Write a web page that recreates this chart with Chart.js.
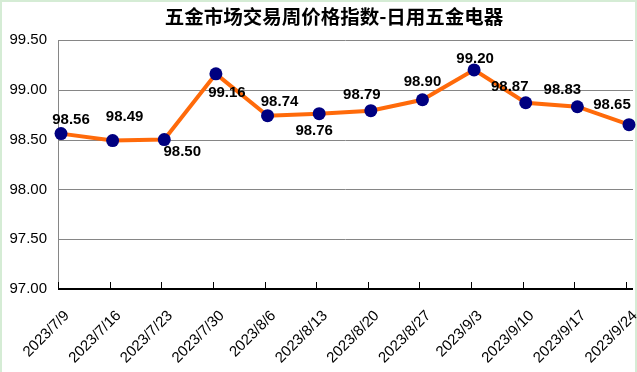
<!DOCTYPE html>
<html>
<head>
<meta charset="utf-8">
<script src="https://cdn.jsdelivr.net/npm/chart.js@4.4.0/dist/chart.umd.min.js"></script>
<style>
  html, body { margin: 0; padding: 0; background: #d5ecd5; }
  #wrap { position: absolute; left: 0; top: 0; width: 637px; height: 372px; }
</style>
</head>
<body>
<div id="wrap"><canvas id="c" width="637" height="372"></canvas></div>
<script>
const chartTitle = '五金市场交易周价格指数-日用五金电器';
const categories = ['2023/7/9', '2023/7/16', '2023/7/23', '2023/7/30', '2023/8/6', '2023/8/13',
                    '2023/8/20', '2023/8/27', '2023/9/3', '2023/9/10', '2023/9/17', '2023/9/24'];
const indexValues = [98.56, 98.49, 98.50, 99.16, 98.74, 98.76, 98.79, 98.90, 99.20, 98.87, 98.83, 98.65];
const yTicks = [97.00, 97.50, 98.00, 98.50, 99.00, 99.50];

// label placement (dx, dy from point centre) - style only
const labelOffsets = [[10,-14],[12,-24],[18,12],[11,19],[12,-14],[-5,17],[-9,-16],[0,-18],[1,-11],[-16,-16],[-15,-17],[-17,-20]];

const bgPlugin = {
  id: 'bg',
  beforeDraw(chart) {
    const ctx = chart.ctx;
    ctx.save();
    ctx.fillStyle = '#d5ecd5';
    ctx.fillRect(0, 0, chart.width, chart.height);
    ctx.fillStyle = '#ffffff';
    ctx.fillRect(2, 2, 633, 370);
    ctx.restore();
  }
};

// plot frame: gridlines and axes extend slightly beyond the first/last category
const framePlugin = {
  id: 'frame',
  beforeDatasetsDraw(chart) {
    const ys = chart.scales.y, xs = chart.scales.x, ctx = chart.ctx;
    const area = chart.chartArea;
    const left = area.left - 3, right = area.right + 4;
    ctx.save();
    ctx.strokeStyle = '#868686';
    ctx.lineWidth = 1;
    yTicks.forEach(v => {
      const y = Math.round(ys.getPixelForValue(v)) + 0.5;
      if (v === yTicks[0]) return;
      ctx.beginPath();
      ctx.moveTo(left, y);
      ctx.lineTo(right, y);
      ctx.stroke();
    });
    const top = Math.round(ys.getPixelForValue(yTicks[yTicks.length - 1]));
    const bottom = Math.round(ys.getPixelForValue(yTicks[0]));
    ctx.beginPath();
    ctx.moveTo(left + 0.5, top);
    ctx.lineTo(left + 0.5, bottom);
    ctx.stroke();
    // x axis line
    ctx.strokeStyle = '#000000';
    ctx.lineWidth = 2;
    ctx.beginPath();
    ctx.moveTo(left, bottom);
    ctx.lineTo(right, bottom);
    ctx.stroke();
    // inner tick marks
    ctx.lineWidth = 1;
    for (let i = 0; i < xs.ticks.length; i++) {
      const x = Math.round(xs.getPixelForTick(i) - 3) + 0.5;
      ctx.beginPath();
      ctx.moveTo(x, bottom);
      ctx.lineTo(x, bottom - 7);
      ctx.stroke();
    }
    ctx.restore();
  }
};

const titlePlugin = {
  id: 'customTitle',
  afterDraw(chart) {
    const ctx = chart.ctx;
    ctx.save();
    ctx.font = 'bold 19.5px "Noto Sans CJK SC", sans-serif';
    ctx.fillStyle = '#000000';
    ctx.textAlign = 'center';
    ctx.textBaseline = 'middle';
    ctx.fillText(chartTitle, 334, 17);
    ctx.restore();
  }
};

const valueLabels = {
  id: 'valueLabels',
  afterDatasetsDraw(chart) {
    const meta = chart.getDatasetMeta(0), ctx = chart.ctx;
    ctx.save();
    ctx.font = 'bold 15px "Liberation Sans", Arial, sans-serif';
    ctx.fillStyle = '#000000';
    ctx.textAlign = 'center';
    ctx.textBaseline = 'middle';
    meta.data.forEach((pt, i) => {
      const off = labelOffsets[i];
      ctx.fillText(indexValues[i].toFixed(2), pt.x + off[0], pt.y + off[1]);
    });
    ctx.restore();
  }
};

new Chart(document.getElementById('c'), {
  type: 'line',
  data: {
    labels: categories,
    datasets: [{
      data: indexValues,
      borderColor: '#ff6a0a',
      borderWidth: 4,
      pointBackgroundColor: '#000080',
      pointBorderColor: '#000080',
      pointRadius: 6.5,
      pointBorderWidth: 0,
      tension: 0,
      clip: false
    }]
  },
  options: {
    responsive: false,
    devicePixelRatio: 1,
    animation: false,
    layout: { padding: { left: 2, right: 8, top: 40, bottom: 2 } },
    plugins: {
      legend: { display: false },
      tooltip: { enabled: false },
      title: { display: false }
    },
    scales: {
      x: {
        offset: false,
        grid: { display: false, drawTicks: false },
        border: { display: false },
        ticks: {
          color: '#000000',
          font: { family: '"Liberation Sans", Arial, sans-serif', size: 15 },
          minRotation: 45,
          maxRotation: 45,
          autoSkip: false,
          padding: 18,
          labelOffset: 6
        },
        afterFit(scale) { scale.height = 81; scale.paddingLeft = 0; scale.paddingRight = 0; }
      },
      y: {
        min: 97.0,
        max: 99.5,
        afterBuildTicks(scale) { scale.ticks = yTicks.map(v => ({ value: v })); },
        grid: { display: false, drawTicks: false },
        border: { display: false },
        ticks: {
          color: '#000000',
          padding: 14,
          font: { family: '"Liberation Sans", Arial, sans-serif', size: 15 },
          callback: v => Number(v).toFixed(2)
        },
        afterFit(scale) { scale.width = 59; }
      }
    }
  },
  plugins: [bgPlugin, framePlugin, valueLabels, titlePlugin]
});
</script>
</body>
</html>
